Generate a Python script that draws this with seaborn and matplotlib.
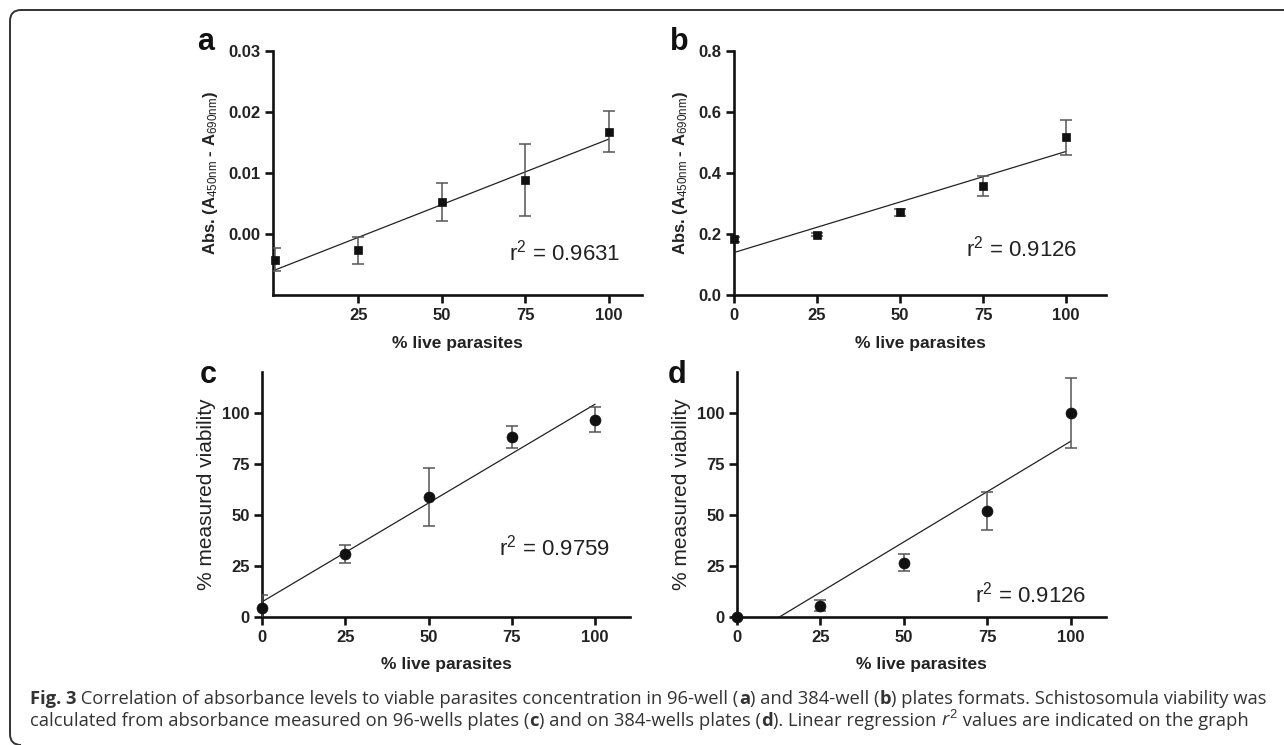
import numpy as np
import pandas as pd
import seaborn as sns
import matplotlib
matplotlib.use("Agg")
import matplotlib.pyplot as plt
from matplotlib.patches import PathPatch
from matplotlib.path import Path
from matplotlib.transforms import IdentityTransform

# ---------------- data ----------------
pct_live = [0, 25, 50, 75, 100]

abs_96 = [-0.0042, -0.0027, 0.0053, 0.0089, 0.0168]
abs_96_err = [0.0019, 0.0022, 0.0031, 0.0059, 0.0033]

abs_384 = [0.182, 0.198, 0.271, 0.357, 0.517]
abs_384_err = [0.008, 0.006, 0.012, 0.032, 0.058]

via_96 = [4.4, 30.8, 59.0, 88.2, 96.7]
via_96_err = [6.2, 4.5, 14.2, 5.2, 6.1]

via_384 = [0.0, 5.4, 26.6, 52.0, 100.0]
via_384_err = [0.5, 2.7, 4.1, 9.3, 17.2]

r2_values = ["0.9631", "0.9126", "0.9759", "0.9126"]
panel_letters = ["a", "b", "c", "d"]

xticks_a = [25, 50, 75, 100]
xticks_bcd = [0, 25, 50, 75, 100]
yticks_a = [0.00, 0.01, 0.02, 0.03]
yticks_b = [0.0, 0.2, 0.4, 0.6, 0.8]
yticks_cd = [0, 25, 50, 75, 100]

# ---------------- style ----------------
sns.set_theme(style="ticks")
plt.rcParams["font.family"] = ["Liberation Sans", "DejaVu Sans"]
plt.rcParams["mathtext.fontset"] = "custom"
plt.rcParams["mathtext.rm"] = "Liberation Sans"
plt.rcParams["mathtext.it"] = "Open Sans:italic"
plt.rcParams["mathtext.bf"] = "Liberation Sans:bold"

W, H = 1284, 745
fig = plt.figure(figsize=(W / 100, H / 100), dpi=100)

def px_axes(left, right, top, bottom):
    return fig.add_axes([left / W, 1 - bottom / H, (right - left) / W, (bottom - top) / H])

ax_a = px_axes(273, 642, 51, 295)
ax_b = px_axes(734, 1106, 51, 295)
ax_c = px_axes(262, 630, 372, 617)
ax_d = px_axes(737, 1106, 372, 617)

panels = [
    (ax_a, abs_96, abs_96_err, "s", 40),
    (ax_b, abs_384, abs_384_err, "s", 40),
    (ax_c, via_96, via_96_err, "o", 62),
    (ax_d, via_384, via_384_err, "o", 62),
]

for ax, y, yerr, mk, ms in panels:
    df = pd.DataFrame({"x": pct_live, "y": y})
    sns.regplot(data=df, x="x", y="y", ax=ax, ci=None, scatter=False,
                line_kws=dict(color="#222222", lw=0.9, zorder=3))
    ax.errorbar(pct_live, y, yerr=yerr, fmt="none", ecolor="#555555",
                elinewidth=1.1, capsize=4, capthick=1.1, zorder=4)
    sns.scatterplot(data=df, x="x", y="y", ax=ax, marker=mk, s=ms, color="#111111",
                    edgecolor="#111111", linewidth=0.5, zorder=5, clip_on=False)
    for side in ["top", "right"]:
        ax.spines[side].set_visible(False)
    for side in ["left", "bottom"]:
        ax.spines[side].set_linewidth(1.9)
        ax.spines[side].set_color("#111111")
    ax.tick_params(axis="both", direction="out", length=6, width=1.9, color="#111111",
                   labelsize=12, pad=3, labelcolor="#222222")
    ax.set_facecolor("white")

# axis limits and ticks
ax_a.set_xlim(-0.6, 110)
ax_a.set_ylim(-0.01, 0.03)
ax_a.set_xticks(xticks_a)
ax_a.set_yticks(yticks_a)
ax_a.set_yticklabels([f"{v:.2f}" for v in yticks_a], fontweight="bold")
ax_a.set_xticklabels([str(v) for v in xticks_a], fontweight="bold")

ax_b.set_xlim(0, 112)
ax_b.set_ylim(0, 0.8)
ax_b.set_xticks(xticks_bcd)
ax_b.set_yticks(yticks_b)
ax_b.set_yticklabels([f"{v:.1f}" for v in yticks_b], fontweight="bold")
ax_b.set_xticklabels([str(v) for v in xticks_bcd], fontweight="bold")

for ax in (ax_c, ax_d):
    ax.set_xlim(0, 110.5)
    ax.set_ylim(0, 120)
    ax.set_xticks(xticks_bcd)
    ax.set_yticks(yticks_cd)
    ax.set_yticklabels([str(v) for v in yticks_cd], fontweight="bold")
    ax.set_xticklabels([str(v) for v in xticks_bcd], fontweight="bold")

# labels
abs_label = r"Abs. (A$_{\mathrm{450nm}}$ - A$_{\mathrm{690nm}}$)"
for ax in (ax_a, ax_b):
    ax.set_xlabel("% live parasites", fontsize=12.5, fontweight="bold", color="#222222", labelpad=10)
    ax.set_ylabel(abs_label, fontsize=12, fontweight="bold", color="#222222", labelpad=6)
for ax in (ax_c, ax_d):
    ax.set_xlabel("% live parasites", fontsize=12.5, fontweight="bold", color="#222222", labelpad=9)
    ax.set_ylabel("% measured viability", fontsize=15, color="#222222", labelpad=4)

# r^2 annotations
r2_pos = [(ax_a, 70, -0.003), (ax_b, 70, 0.153), (ax_c, 71.3, 33.8), (ax_d, 71.3, 10.8)]
for (ax, xx, yy), val in zip(r2_pos, r2_values):
    ax.text(xx, yy, r"r$^{\mathrm{2}}$ = " + val, fontsize=16, color="#222222",
            ha="left", va="center")

# panel letters
letter_pos = [(197, 50), (670, 50), (200, 383), (668, 383)]
for (px, py), letter in zip(letter_pos, panel_letters):
    fig.text(px / W, 1 - py / H, letter, fontsize=22, fontweight="bold",
             ha="left", va="baseline", color="#111111")

# frame: only the top and left edges with rounded corners
r = 11
x0, ytop, ybot = 10, H - 10, 0
verts = [(W + 20, ytop), (x0 + r, ytop), (x0, ytop), (x0, ytop - r),
         (x0, ybot + r), (x0, ybot), (x0 + r, ybot)]
codes = [Path.MOVETO, Path.LINETO, Path.CURVE3, Path.CURVE3,
         Path.LINETO, Path.CURVE3, Path.CURVE3]
frame = PathPatch(Path(verts, codes), transform=IdentityTransform(), fill=False,
                  edgecolor="#333333", linewidth=1.4, figure=fig)
fig.patches.append(frame)

# caption
renderer = fig.canvas.get_renderer()
cap_font = "Open Sans"
cap_size = 13.25
line1 = [("Fig. 3", "bold", "normal"),
         (" Correlation of absorbance levels to viable parasites concentration in 96-well (", "normal", "normal"),
         ("a", "bold", "normal"),
         (") and 384-well (", "normal", "normal"),
         ("b", "bold", "normal"),
         (") plates formats. Schistosomula viability was", "normal", "normal")]
line2 = [("calculated from absorbance measured on 96-wells plates (", "normal", "normal"),
         ("c", "bold", "normal"),
         (") and on 384-wells plates (", "normal", "normal"),
         ("d", "bold", "normal"),
         ("). Linear regression ", "normal", "normal"),
         (r"$\mathit{r}^{\mathrm{2}}$", "normal", "normal"),
         (" values are indicated on the graph", "normal", "normal")]

def draw_line(segments, x0, baseline):
    x = x0
    for txt, wt, st in segments:
        t = fig.text(x / W, 1 - baseline / H, txt, fontsize=cap_size, fontweight=wt,
                     fontstyle=st, family=[cap_font, "DejaVu Sans"], color="#333333",
                     ha="left", va="baseline")
        bb = t.get_window_extent(renderer=renderer)
        x += bb.width

draw_line(line1, 30, 704)
draw_line(line2, 30, 726)

fig.savefig("out.png", dpi=100, facecolor="white")
